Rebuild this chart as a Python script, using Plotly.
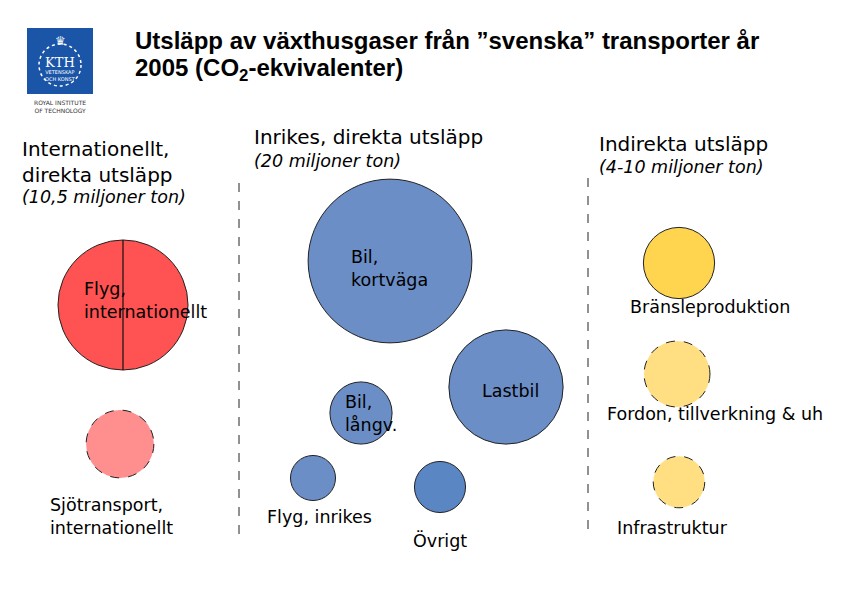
import math
import plotly.graph_objects as go

# ---------------- data ----------------
categories = ["Flyg,<br>internationellt", "Sjötransport,<br>internationellt",
              "Bil,<br>kortväga", "Lastbil", "Bil,<br>långv.", "Flyg, inrikes", "Övrigt",
              "Bränsleproduktion", "Fordon, tillverkning & uh", "Infrastruktur"]
groups = ["int", "int", "inr", "inr", "inr", "inr", "inr", "ind", "ind", "ind"]
# emissions, million ton CO2-eq
values_mt = [7.0, 1.9, 11.1, 5.4, 1.6, 0.84, 1.08, 2.1, 1.8, 1.1]
uncertain = [False, True, False, False, False, False, False, False, True, True]

group_keys = ["int", "inr", "ind"]
group_titles = ["Internationellt,<br>direkta utsläpp", "Inrikes, direkta utsläpp", "Indirekta utsläpp"]
group_totals = ["(10,5 miljoner ton)", "(20 miljoner ton)", "(4-10 miljoner ton)"]

title_lines = ["Utsläpp av växthusgaser från ”svenska” transporter år",
               "2005 (CO<sub>2</sub>-ekvivalenter)"]

# ---------------- layout / style ----------------
W, H = 842, 595
AREA_PER_MT = 604.0  # px^2 per million ton
center_x = [123, 120, 390, 506, 361, 313, 440, 679, 677, 679]
center_y = [305, 444, 261, 387, 413, 478, 487, 263, 374, 482]
colors = ["#FF5252", "#FF8E8E", "#6B8EC6", "#6B8EC6", "#6B8EC6", "#6B8EC6", "#5B86C4",
          "#FFD44F", "#FFDF82", "#FFDF82"]
label_x = [82, 48, 349, 480, 343, 265, 411, 628, 605, 615]
label_y = [300, 516, 268, 391, 413, 517, 540, 307, 414, 528]

title_x, title_y = 133, [40, 69]
header_pos = [(20, 162), (252, 137), (597, 144)]
total_pos = [(20, 197), (252, 161), (597, 167)]
separators = [(239, 183, 535), (588, 178, 533)]

FONT = "DejaVu Sans"

fig = go.Figure()

fig.add_trace(go.Scatter(
    x=center_x, y=center_y, mode="markers",
    marker=dict(
        size=values_mt, sizemode="area", sizeref=1.0 / (2 * AREA_PER_MT),
        color=colors, opacity=1,
        line=dict(color="#222222", width=[0 if u else 1 for u in uncertain]),
    ),
    hovertext=[c.replace("<br>", " ") for c in categories], hoverinfo="text",
    showlegend=False,
))

shapes = []
# dashed outlines for uncertain bubbles
for cx, cy, v, u in zip(center_x, center_y, values_mt, uncertain):
    r = math.sqrt(v * AREA_PER_MT)
    if u:
        shapes.append(dict(type="circle", xref="x", yref="y", x0=cx - r, x1=cx + r, y0=cy - r, y1=cy + r,
                           line=dict(color="#222222", width=1, dash="dash"), layer="above"))
# split line in international aviation bubble
r0 = math.sqrt(values_mt[0] * AREA_PER_MT)
shapes.append(dict(type="line", xref="x", yref="y", x0=center_x[0], x1=center_x[0],
                   y0=center_y[0] - r0, y1=center_y[0] + r0, line=dict(color="#111111", width=1.2)))
# separators
for sx, sy0, sy1 in separators:
    shapes.append(dict(type="line", xref="x", yref="y", x0=sx, x1=sx, y0=sy0, y1=sy1,
                       line=dict(color="#222222", width=1, dash="dash")))
# KTH logo
shapes.append(dict(type="rect", xref="x", yref="y", x0=27, x1=93, y0=28, y1=94,
                   fillcolor="#1A55A8", line=dict(width=0), layer="below"))
shapes.append(dict(type="circle", xref="x", yref="y", x0=39, x1=81, y0=44, y1=86,
                   line=dict(color="white", width=1.5, dash="dot")))

annotations = []
for ty, t in zip(title_y, title_lines):
    annotations.append(dict(x=title_x, y=ty, xref="x", yref="y", text="<b>" + t + "</b>",
                            showarrow=False, xanchor="left", yanchor="middle", align="left",
                            font=dict(family="Liberation Sans, Arial", size=24, color="black")))
for (hx, hy), t in zip(header_pos, group_titles):
    annotations.append(dict(x=hx, y=hy, xref="x", yref="y", text=t, showarrow=False,
                            xanchor="left", yanchor="middle", align="left",
                            font=dict(family=FONT, size=20, color="black")))
for (tx, ty), t in zip(total_pos, group_totals):
    annotations.append(dict(x=tx, y=ty, xref="x", yref="y", text="<i>" + t + "</i>", showarrow=False,
                            xanchor="left", yanchor="middle", align="left",
                            font=dict(family=FONT, size=17.5, color="black")))
for lx, ly, t in zip(label_x, label_y, categories):
    annotations.append(dict(x=lx, y=ly, xref="x", yref="y", text=t, showarrow=False,
                            xanchor="left", yanchor="middle", align="left",
                            font=dict(family=FONT, size=17.5, color="black")))
# logo texts
annotations.append(dict(x=60, y=41, xref="x", yref="y", text="♛", showarrow=False,
                        font=dict(family="DejaVu Sans", size=12, color="white")))
annotations.append(dict(x=60, y=62, xref="x", yref="y", text="KTH", showarrow=False,
                        font=dict(family="DejaVu Serif", size=13, color="white")))
annotations.append(dict(x=60, y=75, xref="x", yref="y", text="VETENSKAP<br>OCH KONST", showarrow=False,
                        font=dict(family="DejaVu Sans", size=5, color="white")))
annotations.append(dict(x=60, y=106, xref="x", yref="y", text="ROYAL INSTITUTE<br>OF TECHNOLOGY",
                        showarrow=False, font=dict(family="DejaVu Sans", size=6, color="#333333")))

fig.update_layout(
    width=W, height=H, autosize=False,
    margin=dict(l=0, r=0, t=0, b=0, pad=0),
    paper_bgcolor="white", plot_bgcolor="white",
    xaxis=dict(range=[0, W], visible=False, fixedrange=True),
    yaxis=dict(range=[H, 0], visible=False, fixedrange=True),
    shapes=shapes, annotations=annotations, showlegend=False,
)

fig.write_html("out.html", config={"displayModeBar": False},
               post_script="document.body.style.margin='0';document.body.style.overflow='hidden';")
